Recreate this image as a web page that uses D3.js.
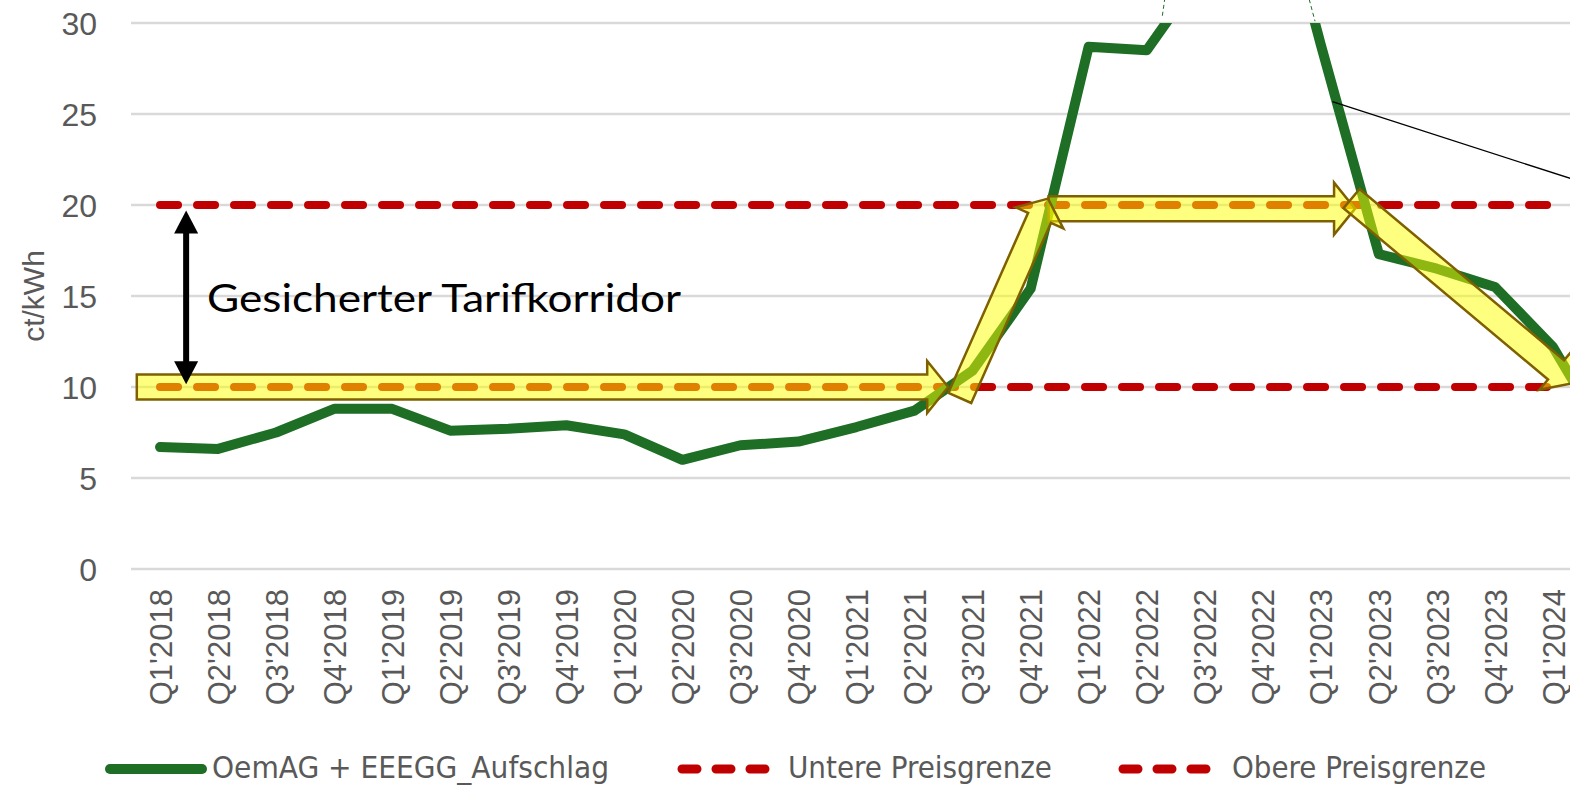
<!DOCTYPE html>
<html>
<head>
<meta charset="utf-8">
<script src="https://cdn.jsdelivr.net/npm/d3@7"></script>
<style>
  body { margin: 0; background: #fff; }
  svg { display: block; }
</style>
</head>
<body>
<svg id="chart" width="1570" height="787"></svg>
<script>
// quarters shown on the x axis (the last one runs off the right edge)
var quarters = ["Q1'2018","Q2'2018","Q3'2018","Q4'2018","Q1'2019","Q2'2019","Q3'2019","Q4'2019",
  "Q1'2020","Q2'2020","Q3'2020","Q4'2020","Q1'2021","Q2'2021","Q3'2021","Q4'2021",
  "Q1'2022","Q2'2022","Q3'2022","Q4'2022","Q1'2023","Q2'2023","Q3'2023","Q4'2023","Q1'2024","Q2'2024"];

// OemAG + EEEGG_Aufschlag, ct/kWh
var oemag = [6.7, 6.6, 7.5, 8.8, 8.8, 7.6, 7.7, 7.9, 7.4, 6.0, 6.8, 7.0, 7.8, 8.7, 10.9, 15.4,
  28.7, 28.5, 33.0, 40.8, 28.8, 17.3, 16.5, 15.5, 12.2, 6.8];
var untereGrenze = [10,10,10,10,10,10,10,10,10,10,10,10,10,10,10,10,10,10,10,10,10,10,10,10,10];
var obereGrenze  = [20,20,20,20,20,20,20,20,20,20,20,20,20,20,20,20,20,20,20,20,20,20,20,20,20];
var yTicks = [0, 5, 10, 15, 20, 25, 30];

var legendItems = ["OemAG + EEEGG_Aufschlag", "Untere Preisgrenze", "Obere Preisgrenze"];

// yellow arrows: [index from, value from, index to, value to]
var yellowArrows = [
  [-0.40, 10.0, 13.58, 10.0],
  [15.31, 19.8, 20.59, 19.8],
  [13.78, 9.4, 15.30, 20.35],
  [20.53, 20.35, 24.33, 10.2]
];

var green = "#1e6e25", red = "#c00000", grey = "#595959";

var svg = d3.select("#chart");
var step = 58.04;
var x = d3.scalePoint().domain(quarters).range([131, 131 + quarters.length * step]).padding(0.5);
var y = d3.scaleLinear().domain([0, 30]).range([569, 23]);
function xi(i) { return x(quarters[0]) + i * x.step(); }

// gridlines
svg.append("g").selectAll("line").data(yTicks).join("line")
  .attr("x1", 131).attr("x2", 1700)
  .attr("y1", function(d){ return y(d); }).attr("y2", function(d){ return y(d); })
  .attr("stroke", "#d9d9d9").attr("stroke-width", 2.5);

// y axis labels
var yAxis = d3.axisLeft(y).tickValues(yTicks).tickSize(0).tickPadding(0);
svg.append("g").attr("transform", "translate(97,0)").call(yAxis)
  .call(function(g){ g.select(".domain").remove(); })
  .selectAll("text").attr("font-family", "Liberation Sans, Arial, sans-serif")
  .attr("font-size", 32).attr("fill", grey).attr("dy", "0.36em");

svg.append("text").attr("transform", "translate(44," + y(15.0) + ") rotate(-90)")
  .attr("text-anchor", "middle").attr("font-family", "Liberation Sans, Arial, sans-serif")
  .attr("font-size", 30).attr("fill", grey).text("ct/kWh");

// x axis labels
var xAxis = d3.axisBottom(x).tickSize(0).tickPadding(0);
svg.append("g").attr("transform", "translate(0,589)").call(xAxis)
  .call(function(g){ g.select(".domain").remove(); })
  .selectAll("text")
  .attr("font-family", "Liberation Sans, Arial, sans-serif").attr("font-size", 31).attr("fill", grey)
  .attr("text-anchor", "end").attr("transform", "rotate(-90)")
  .attr("x", 0).attr("y", 0).attr("dx", 0).attr("dy", "0.36em");

// price limits
function limitLine(vals) {
  return d3.line().x(function(d, i){ return x(quarters[i]); }).y(function(d){ return y(d); })(vals);
}
[untereGrenze, obereGrenze].forEach(function(vals){
  svg.append("path").attr("d", limitLine(vals)).attr("fill", "none")
    .attr("stroke", red).attr("stroke-width", 8).attr("stroke-linecap", "round")
    .attr("stroke-dasharray", "18,19");
});

// main series, clipped at the plot top
svg.append("clipPath").attr("id", "plotclip").append("rect")
  .attr("x", 100).attr("y", y(30)).attr("width", 1700).attr("height", y(0) - y(30) + 20);
var line = d3.line().x(function(d, i){ return x(quarters[i]); }).y(function(d){ return y(d); });
svg.append("path").attr("d", line(oemag)).attr("fill", "none").attr("clip-path", "url(#plotclip)")
  .attr("stroke", green).attr("stroke-width", 10).attr("stroke-linecap", "round").attr("stroke-linejoin", "round");

// thin dashed leaders above the plot
[[17.27, 30.4, 17.31, 31.3], [19.80, 31.3, 19.90, 30.1]].forEach(function(p){
  svg.append("line").attr("x1", xi(p[0])).attr("y1", y(p[1])).attr("x2", xi(p[2])).attr("y2", y(p[3]))
    .attr("stroke", green).attr("stroke-width", 1).attr("stroke-dasharray", "4,3");
});

// black callout leader
svg.append("line").attr("x1", xi(20.20)).attr("y1", y(25.68)).attr("x2", xi(25.0)).attr("y2", y(20.74))
  .attr("stroke", "#000").attr("stroke-width", 1.3);

// arrow shapes
function arrowPoints(x0, y0, x1, y1, bw, hw, hl) {
  var dx = x1 - x0, dy = y1 - y0, len = Math.sqrt(dx*dx + dy*dy);
  var ux = dx/len, uy = dy/len, nx = -uy, ny = ux;
  var bx = x1 - ux*hl, by = y1 - uy*hl;
  var pts = [
    [x0 + nx*bw, y0 + ny*bw], [bx + nx*bw, by + ny*bw], [bx + nx*hw, by + ny*hw], [x1, y1],
    [bx - nx*hw, by - ny*hw], [bx - nx*bw, by - ny*bw], [x0 - nx*bw, y0 - ny*bw]
  ];
  return pts.map(function(p){ return p.join(","); }).join(" ");
}

svg.append("g").selectAll("polygon").data(yellowArrows).join("polygon")
  .attr("points", function(a){ return arrowPoints(xi(a[0]), y(a[1]), xi(a[2]), y(a[3]), 12.5, 26, 21); })
  .attr("fill", "#ffff00").attr("fill-opacity", 0.5)
  .attr("stroke", "#7f6000").attr("stroke-width", 2.5).attr("stroke-linejoin", "miter");

// corridor double arrow
var ax = xi(0.45), aTop = y(19.7), aBot = y(10.15);
svg.append("line").attr("x1", ax).attr("x2", ax).attr("y1", aTop + 20).attr("y2", aBot - 20)
  .attr("stroke", "#000").attr("stroke-width", 6);
svg.append("polygon").attr("points", [[ax, aTop], [ax - 12, aTop + 23], [ax + 12, aTop + 23]].join(" ")).attr("fill", "#000");
svg.append("polygon").attr("points", [[ax, aBot], [ax - 12, aBot - 23], [ax + 12, aBot - 23]].join(" ")).attr("fill", "#000");

svg.append("text").attr("x", xi(0.81)).attr("y", y(14.1))
  .attr("font-family", "Lato, 'Open Sans', sans-serif").attr("font-size", 39).attr("fill", "#000")
  .attr("textLength", 474).attr("lengthAdjust", "spacingAndGlyphs")
  .text("Gesicherter Tarifkorridor");

// legend
var lg = svg.append("g").attr("font-family", "'Liberation Sans Narrow', 'DejaVu Sans Condensed', sans-serif")
  .attr("font-size", 30).attr("fill", grey);
var legendPos = [[105, 207, 212, 397], [677, 770, 788, 264], [1118, 1218, 1232, 254]];
legendItems.forEach(function(name, k){
  var p = legendPos[k];
  var s = lg.append("line").attr("x1", p[0] + 5).attr("x2", p[1] - 5).attr("y1", 769).attr("y2", 769)
    .attr("stroke-width", 10).attr("stroke-linecap", "round");
  if (k === 0) s.attr("stroke", green);
  else s.attr("stroke", red).attr("stroke-dasharray", "15,19").attr("stroke-width", 9);
  lg.append("text").attr("x", p[2]).attr("y", 778).attr("textLength", p[3])
    .attr("lengthAdjust", "spacingAndGlyphs").text(name);
});
</script>
</body>
</html>
